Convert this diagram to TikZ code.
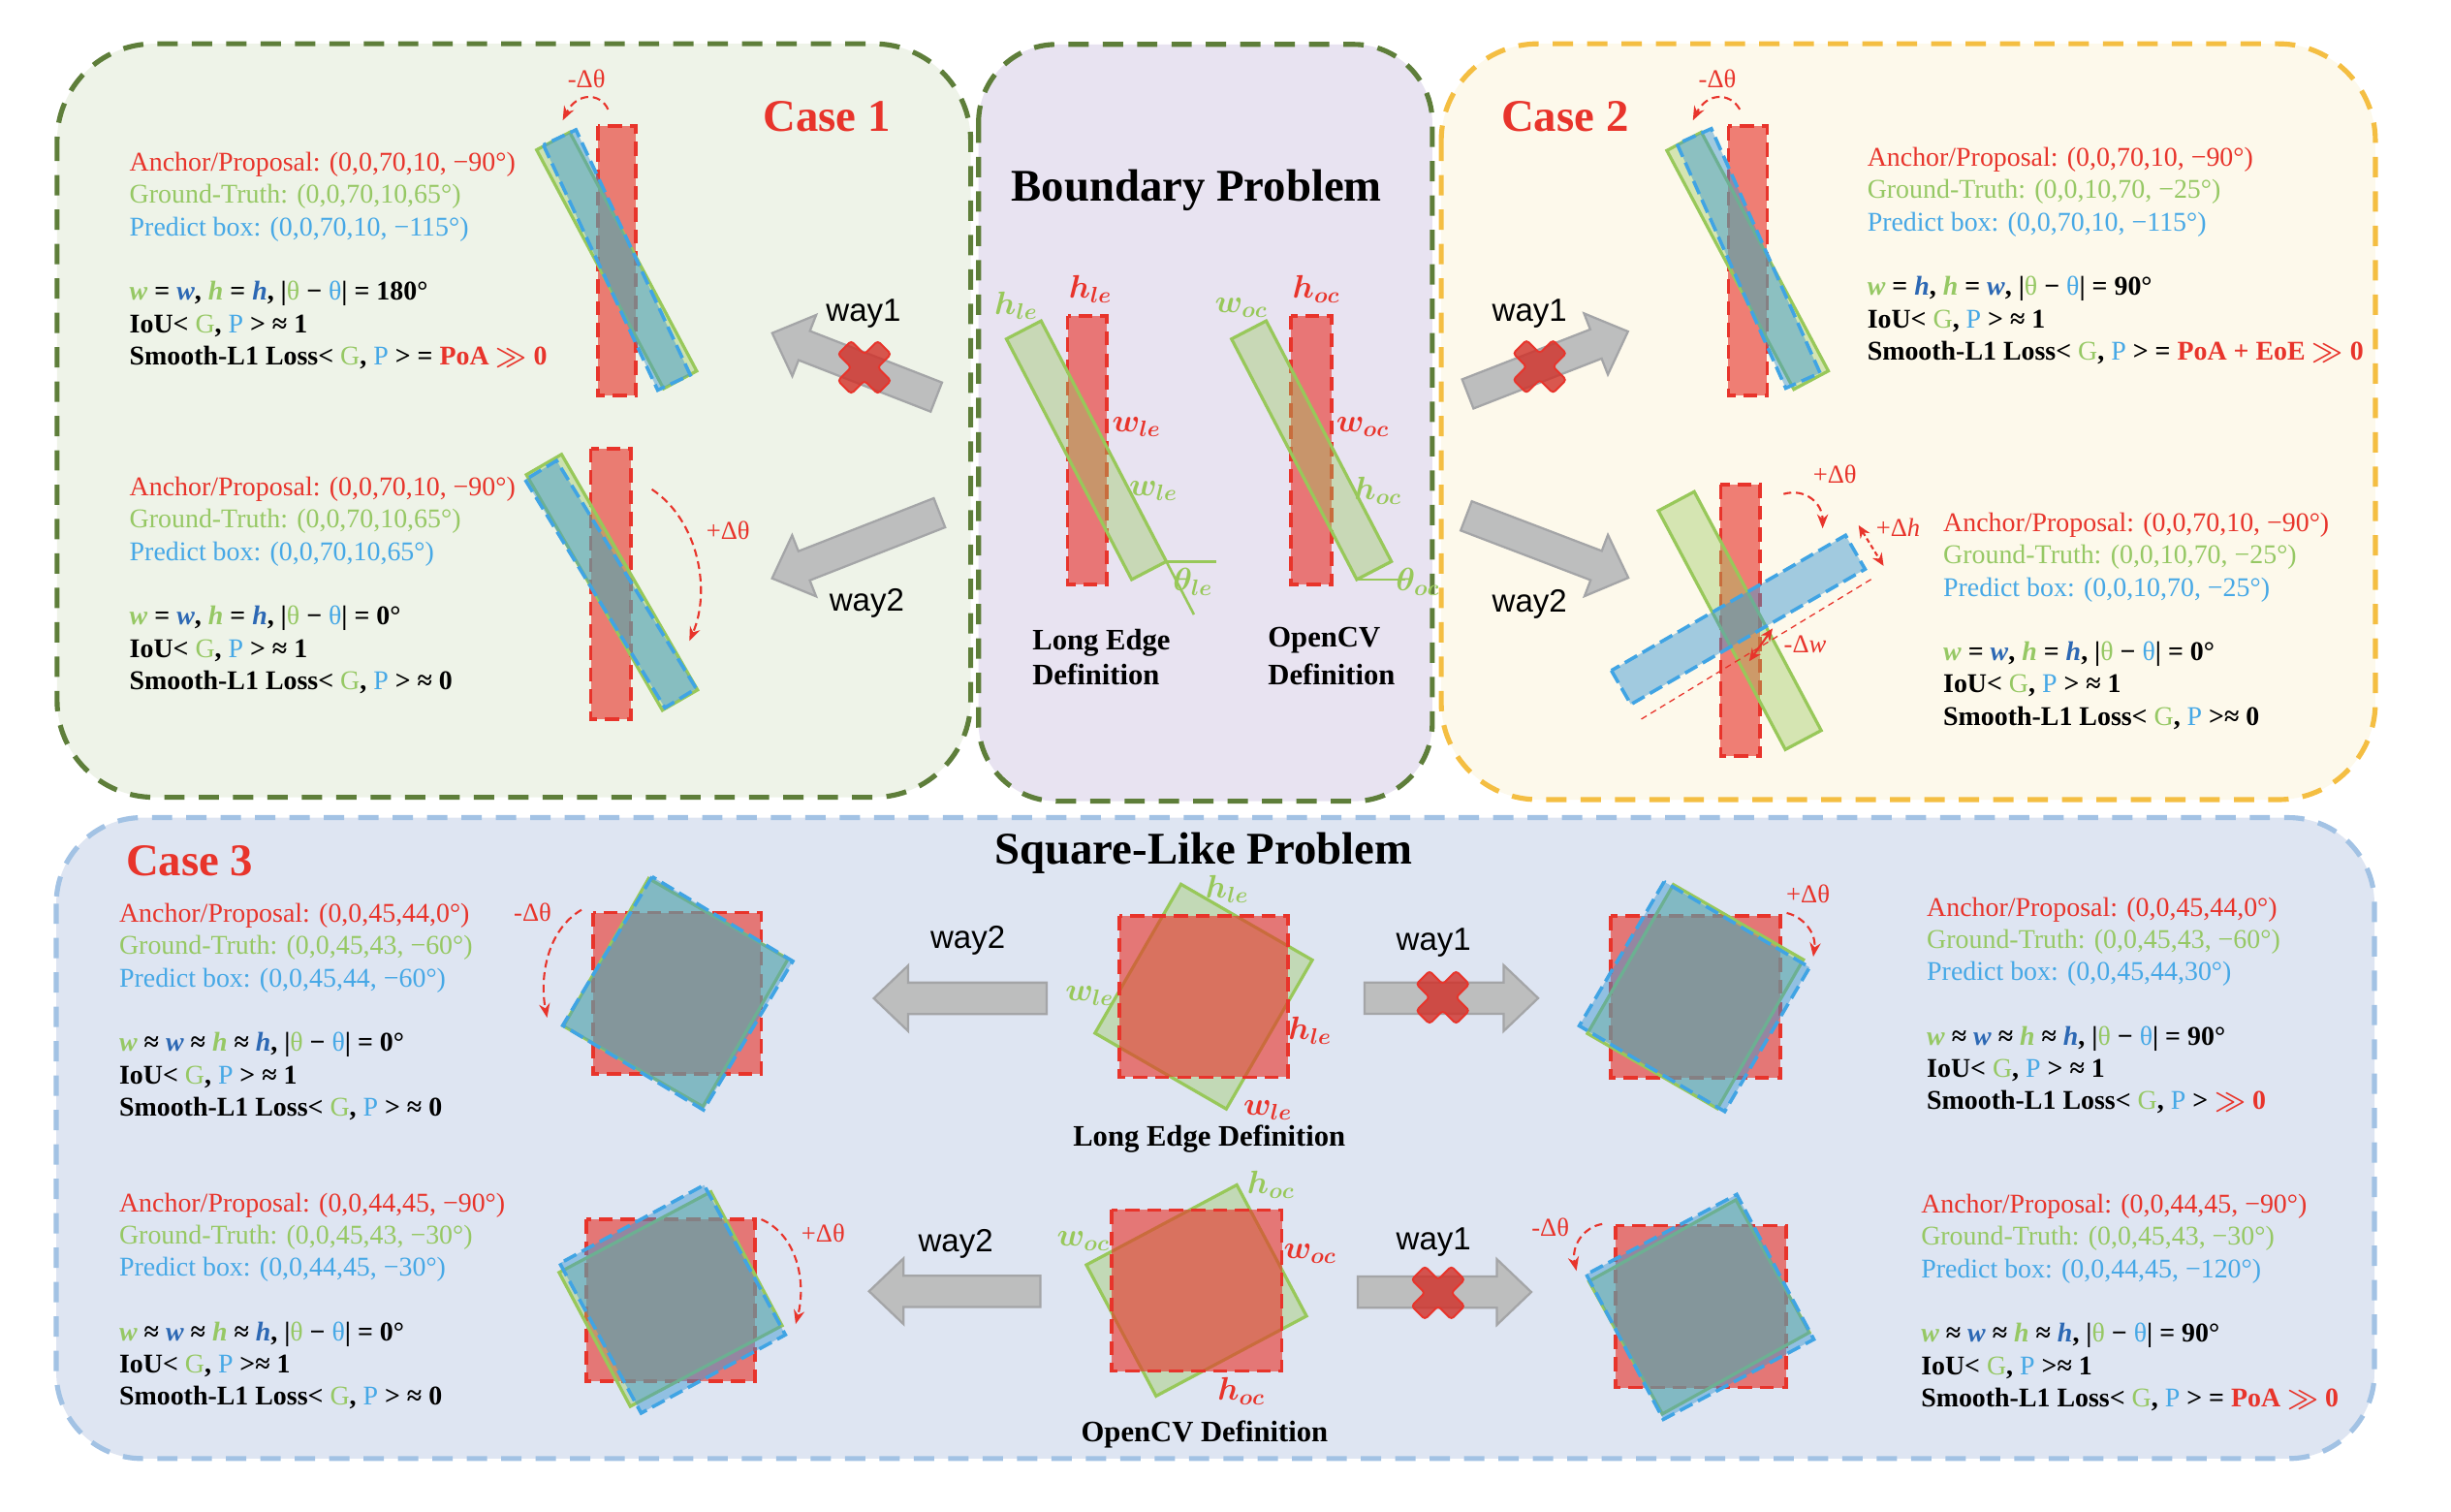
\documentclass[tikz,border=0pt]{standalone}
\usepackage{fontspec}
\setmainfont{Liberation Serif}
\newfontfamily\wayfont{Liberation Sans}
\usetikzlibrary{arrows.meta}

\definecolor{redc}{RGB}{232,52,43}
\definecolor{gtc}{RGB}{152,200,90}
\definecolor{gttext}{RGB}{150,200,100}
\definecolor{prc}{RGB}{64,164,228}
\definecolor{prtext}{RGB}{70,168,230}
\definecolor{dblue}{RGB}{44,104,180}
\definecolor{boxolive}{RGB}{94,126,58}
\definecolor{boxorange}{RGB}{244,190,66}
\definecolor{boxblue}{RGB}{162,194,228}
\definecolor{bgone}{RGB}{238,243,232}
\definecolor{bgmid}{RGB}{232,227,241}
\definecolor{bgtwo}{RGB}{253,249,235}
\definecolor{bgthree}{RGB}{222,229,242}
\definecolor{agray}{RGB}{189,190,190}
\definecolor{agrayd}{RGB}{164,165,167}

\newcommand{\Gw}{\textcolor{gttext}{\textit{w}}}
\newcommand{\Gh}{\textcolor{gttext}{\textit{h}}}
\newcommand{\Pw}{\textcolor{dblue}{\textit{w}}}
\newcommand{\Ph}{\textcolor{dblue}{\textit{h}}}
\newcommand{\Gth}{\textcolor{gttext}{\textmd{θ}}}
\newcommand{\Pth}{\textcolor{prtext}{\textmd{θ}}}
\newcommand{\cG}{\textcolor{gttext}{\textmd{G}}}
\newcommand{\cP}{\textcolor{prtext}{\textmd{P}}}
\newcommand{\much}{{\boldmath$\gg$}}

\tikzset{
  panel/.style={line width=3.2pt, dash pattern=on 13pt off 9pt},
  anchorbox/.style={draw=redc, line width=2.2pt, dash pattern=on 9pt off 5pt, fill=redc, fill opacity=0.62},
  gtbox/.style={draw=gtc, line width=2pt, fill=gtc, fill opacity=0.39},
  prbox/.style={draw=prc, line width=2.2pt, dash pattern=on 9pt off 4pt, fill=prc!92!black, fill opacity=0.47},
  gtline/.style={gtc, line width=1.6pt},
  wayarrow/.style={fill=agray, draw=agrayd, line width=1.4pt},
  redcross/.style={fill=redc!90!black, fill opacity=0.8, draw=redc, line width=1.2pt, rounded corners=2pt},
  dtheta/.style={redc, line width=1.3pt, dash pattern=on 5pt off 3pt, -{Stealth[length=9pt,width=7pt]}},
  dboth/.style={redc, line width=1.3pt, dash pattern=on 3pt off 2pt, {Stealth[length=8pt,width=7pt]}-{Stealth[length=8pt,width=7pt]}},
  txt/.style={anchor=base west, inner sep=0pt, font=\fontsize{17.3}{20.7}\selectfont},
  btxt/.style={txt, font=\fontsize{17.3}{20.7}\selectfont\bfseries},
  title/.style={inner sep=0pt, font=\fontsize{29}{34}\selectfont\bfseries},
  deftxt/.style={inner sep=0pt, anchor=base west, font=\fontsize{19}{22}\selectfont\bfseries},
  waytxt/.style={inner sep=0pt, anchor=base west, font=\wayfont\fontsize{20.5}{24}\selectfont},
  dlab/.style={inner sep=0pt, anchor=base west, text=redc, font=\fontsize{16.5}{20}\selectfont},
  mlab/.style={inner sep=0pt, font=\fontsize{20.5}{24}\selectfont\boldmath}
}

% block arrow: tail x, tail y, direction, length
\newcommand{\wayarrow}[4]{%
  \draw[wayarrow, shift={(#1,#2)}, rotate=#3]
    (0,-10) -- (#4-22,-10) -- (#4-22,-21) -- (#4,0) -- (#4-22,21) -- (#4-22,10) -- (0,10) -- cycle;}
% red cross
\newcommand{\redmark}[2]{%
  \draw[redcross, shift={(#1,#2)}, rotate=45]
    (-6,-18) -- (6,-18) -- (6,-6) -- (18,-6) -- (18,6) -- (6,6) -- (6,18) -- (-6,18)
    -- (-6,6) -- (-18,6) -- (-18,-6) -- (-6,-6) -- cycle;}
% rotated box: style, centre x, centre y, width, height, angle
\newcommand{\rbox}[6]{%
  \draw[#1, shift={(#2,#3)}, rotate=#6] (-#4/2,-#5/2) rectangle (#4/2,#5/2);}
% text block: name, x, first baseline, anchor, gt, pred, relation, iou, loss
\newcommand{\info}[9]{%
  \node[txt, text=redc]   (#1-a) at (#2,#3)        {Anchor/Proposal: #4};
  \node[txt, text=gttext] (#1-g) at (#2,#3+20.65)  {Ground-Truth: #5};
  \node[txt, text=prtext] (#1-p) at (#2,#3+41.3)   {Predict box: #6};
  \node[btxt]             (#1-e) at (#2,#3+82.6)   {#7};
  \node[btxt]             (#1-i) at (#2,#3+103.25) {#8};
  \node[btxt]             (#1-l) at (#2,#3+123.9)  {#9};}

\begin{document}
\begin{tikzpicture}[x=1pt, y=-1pt]

\useasboundingbox (0,0) rectangle (1568,966.6);

% PANELS
  \draw[panel, draw=boxolive, fill=bgone, rounded corners=62pt] (36.5,28) rectangle (621,510);
  \draw[panel, draw=boxolive, fill=bgmid, rounded corners=50pt] (626,28.4) rectangle (916.3,512.5);
  \draw[panel, draw=boxorange, fill=bgtwo, rounded corners=62pt] (922,28) rectangle (1519.6,511.5);
  \draw[panel, draw=boxblue, fill=bgthree, rounded corners=55pt] (36,523) rectangle (1519,933);

% CASE 1
  \node[title, text=redc, anchor=base west] (case1) at (488,83.7) {Case 1};

  \draw[anchorbox] (382.4,80.6) rectangle (406.6,253.1);
  \rbox{gtbox}{394.5}{166.6}{24}{173}{28}
  \rbox{prbox}{394.6}{166.3}{23}{173}{25}
  \draw[dtheta] (389,70) .. controls (384,59) and (369,59) .. (360,77);
  \node[dlab] (c1-up) at (363,55.8) {-Δθ};

  \draw[anchorbox] (378,287) rectangle (403.5,460);
  \rbox{gtbox}{391.5}{372.5}{26}{174}{30}
  \rbox{prbox}{390.7}{373.7}{23.5}{171}{31.5}
  \draw[dtheta] (417,313) .. controls (447,333) and (455,378) .. (441,410);
  \node[dlab] (c1-lo) at (451.7,345) {+Δθ};

  \info{cA}{82.7}{109.5}{(0,0,70,10, −90°)}{(0,0,70,10,65°)}{(0,0,70,10, −115°)}
    {\Gw{} = \Pw, \Gh{} = \Ph, |\Gth{} − \Pth| = 180°}
    {IoU< \cG, \cP{} > ≈ 1}
    {Smooth-L1 Loss< \cG, \cP{} > = \textcolor{redc}{PoA \much{} 0}}
  \info{cB}{82.7}{317.2}{(0,0,70,10, −90°)}{(0,0,70,10,65°)}{(0,0,70,10,65°)}
    {\Gw{} = \Pw, \Gh{} = \Ph, |\Gth{} − \Pth| = 0°}
    {IoU< \cG, \cP{} > ≈ 1}
    {Smooth-L1 Loss< \cG, \cP{} > ≈ 0}

  \wayarrow{599}{254}{158.7}{112.7}
  \redmark{553}{235}
  \node[waytxt] (way1a) at (528.3,205.6) {way1};
  \wayarrow{601}{328}{201.4}{115}
  \node[waytxt] (way2a) at (530.4,390.6) {way2};

% BOUNDARY PROBLEM
  \node[title, anchor=base] (bp) at (765.5,128.5) {Boundary Problem};

  \draw[anchorbox] (683,202) rectangle (708,374);
  \begin{scope}[shift={(695,288)}, rotate=27.5]
    \draw[gtbox] (-12.5,-86.75) rectangle (12.5,86.75);
    \coordinate (le-br) at (12.5,86.75);
    \coordinate (le-ext) at (12.5,125);
  \end{scope}
  \draw[gtline] (le-br) -- ++(32,0);
  \draw[gtline] (le-br) -- (le-ext);

  \draw[anchorbox] (826,202) rectangle (852,374);
  \begin{scope}[shift={(839,288)}, rotate=27.5]
    \draw[gtbox] (-12.5,-86.75) rectangle (12.5,86.75);
    \coordinate (oc-bl) at (-12.5,86.75);
  \end{scope}
  \draw[gtline] (oc-bl) -- ++(31,0);

  \node[mlab, text=gtc]  (hle-g) at (650,195.3) {$h_{le}$};
  \node[mlab, text=redc] (hle-r) at (697.5,185) {$h_{le}$};
  \node[mlab, text=redc] (wle-r) at (727,273)   {$w_{le}$};
  \node[mlab, text=gtc]  (wle-g) at (737.8,313.8) {$w_{le}$};
  \node[mlab, text=gtc]  (tle)   at (763,372)   {$\theta_{le}$};
  \node[mlab, text=gtc]  (woc-g) at (794,197)   {$w_{oc}$};
  \node[mlab, text=redc] (hoc-r) at (842,185)   {$h_{oc}$};
  \node[mlab, text=redc] (woc-r) at (871.7,273) {$w_{oc}$};
  \node[mlab, text=gtc]  (hoc-g) at (881.4,313.8) {$h_{oc}$};
  \node[mlab, text=gtc]  (toc)   at (907,372)   {$\theta_{oc}$};

  \node[deftxt] (led1) at (660.3,415.6) {Long Edge};
  \node[deftxt] (led2) at (660.3,438.3) {Definition};
  \node[deftxt] (ocd1) at (811,414)     {OpenCV};
  \node[deftxt] (ocd2) at (811,438.3)   {Definition};

% CASE 2
  \node[title, text=redc, anchor=base west] (case2) at (960.3,83.7) {Case 2};

  \draw[anchorbox] (1105.7,80.6) rectangle (1130.5,253);
  \rbox{gtbox}{1118}{166.8}{25}{173}{28}
  \rbox{prbox}{1118.6}{165.3}{24}{171}{24}
  \draw[dtheta] (1113,70) .. controls (1107,59) and (1092,59) .. (1083,77);
  \node[dlab] (c2-up) at (1086.5,55.8) {-Δθ};

  \draw[anchorbox] (1100.8,310) rectangle (1126,483.6);
  \rbox{gtbox}{1113}{397}{26}{173}{28}
  \rbox{prbox}{1112}{396.5}{173}{25}{30}
  \draw[redc, line width=0.8pt, dash pattern=on 4pt off 3pt] (1050,460) -- (1198,370);
  \draw[dtheta] (1141,316) .. controls (1155,312) and (1166,322) .. (1166,338);
  \node[dlab] (c2-lo) at (1159.7,309) {+Δθ};
  \draw[dboth] (1189,336) -- (1205,362);
  \node[dlab] (c2-dh) at (1200,343) {+Δ\textit{h}};
  \draw[redc, line width=1.3pt, {Stealth[length=8pt,width=7pt]}-{Stealth[length=8pt,width=7pt]}] (1119,423) -- (1134,402);
  \node[dlab] (c2-dw) at (1141,417.4) {-Δ\textit{w}};

  \info{cC}{1194.4}{106.4}{(0,0,70,10, −90°)}{(0,0,10,70, −25°)}{(0,0,70,10, −115°)}
    {\Gw{} = \Ph, \Gh{} =  \Pw, |\Gth{} − \Pth| = 90°}
    {IoU< \cG, \cP{} > ≈ 1}
    {Smooth-L1 Loss< \cG, \cP{} >  = \textcolor{redc}{PoA + EoE \much{} 0}}
  \info{cD}{1243}{340}{(0,0,70,10, −90°)}{(0,0,10,70, −25°)}{(0,0,10,70, −25°)}
    {\Gw{} = \Pw, \Gh{} = \Ph, |\Gth{} − \Pth| = 0°}
    {IoU< \cG, \cP{} > ≈ 1}
    {Smooth-L1 Loss< \cG, \cP{} >≈ 0}

  \wayarrow{939}{252}{21.3}{110}
  \redmark{985}{234.5}
  \node[waytxt] (way1b) at (954.4,205.6) {way1};
  \wayarrow{938}{330}{-20.9}{111}
  \node[waytxt] (way2b) at (954.4,391.6) {way2};

% CASE 3
  \node[title, text=redc, anchor=base west] (case3) at (80.5,560) {Case 3};
  \node[title, anchor=base] (slp) at (770,552.6) {Square-Like Problem};

  % long edge square
  \rbox{gtbox}{770}{637.5}{97}{110}{-30}
  \draw[anchorbox] (716,586) rectangle (824,689);
  \node[mlab, text=gtc]  (sq-hle-g) at (785,569) {$h_{le}$};
  \node[mlab, text=gtc]  (sq-wle-g) at (697,637) {$w_{le}$};
  \node[mlab, text=redc] (sq-hle-r) at (838,659) {$h_{le}$};
  \node[mlab, text=redc] (sq-wle-r) at (811,710) {$w_{le}$};
  \node[deftxt, anchor=base] (sq-led) at (773.6,733.4) {Long Edge Definition};

  % opencv square
  \rbox{gtbox}{765.4}{825.5}{109}{95}{28}
  \draw[anchorbox] (711,774) rectangle (820,877);
  \node[mlab, text=gtc]  (sq-hoc-g) at (813,758) {$h_{oc}$};
  \node[mlab, text=gtc]  (sq-woc-g) at (693,794) {$w_{oc}$};
  \node[mlab, text=redc] (sq-woc-r) at (838,802) {$w_{oc}$};
  \node[mlab, text=redc] (sq-hoc-r) at (794,890) {$h_{oc}$};
  \node[deftxt, anchor=base] (sq-ocd) at (770.6,922.3) {OpenCV Definition};

  % upper left
  \draw[anchorbox] (379.4,583.8) rectangle (487,687);
  \rbox{gtbox}{432.3}{634.9}{103}{109}{-30}
  \rbox{prbox}{433.6}{635.4}{105}{111}{-31}
  \draw[dtheta] (372,582) .. controls (350,595) and (345,625) .. (350,651);
  \node[dlab] (c3-ul) at (328.5,589) {-Δθ};

  % upper right
  \draw[anchorbox] (1030.4,586) rectangle (1139,689.6);
  \rbox{gtbox}{1084.6}{637.5}{96}{110}{-30}
  \rbox{prbox}{1084}{637.5}{108}{107}{-30.5}
  \draw[dtheta] (1143,584) .. controls (1155,587) and (1162,598) .. (1160,612);
  \node[dlab] (c3-ur) at (1142.6,577.6) {+Δθ};

  % lower left
  \draw[anchorbox] (375,780) rectangle (483,883.5);
  \rbox{gtbox}{429}{831}{110}{97}{28}
  \rbox{prbox}{430.3}{831}{105}{109}{28.5}
  \draw[dtheta] (487,780) .. controls (510,790) and (516,820) .. (509,847);
  \node[dlab] (c3-ll) at (512.5,794.6) {+Δθ};

  % lower right
  \draw[anchorbox] (1033.5,784) rectangle (1142.6,887.6);
  \rbox{gtbox}{1087}{836}{107.5}{97}{29}
  \rbox{prbox}{1087.6}{836}{109}{105}{28}
  \draw[dtheta] (1025,783) .. controls (1013,785) and (1005,797) .. (1008.5,813);
  \node[dlab] (c3-lr) at (979.6,791) {-Δθ};

  \info{cE}{76.1}{590}{(0,0,45,44,0°)}{(0,0,45,43, −60°)}{(0,0,45,44, −60°)}
    {\Gw{} ≈ \Pw{} ≈ \Gh{} ≈ \Ph, |\Gth{} − \Pth| = 0°}
    {IoU< \cG, \cP{} > ≈ 1}
    {Smooth-L1 Loss< \cG, \cP{} > ≈ 0}
  \info{cF}{1232.5}{585.9}{(0,0,45,44,0°)}{(0,0,45,43, −60°)}{(0,0,45,44,30°)}
    {\Gw{} ≈ \Pw{} ≈ \Gh{} ≈ \Ph, |\Gth{} − \Pth| = 90°}
    {IoU< \cG, \cP{} > ≈ 1}
    {Smooth-L1 Loss< \cG, \cP{} > \textcolor{redc}{\much{} 0}}
  \info{cG}{76.1}{775}{(0,0,44,45, −90°)}{(0,0,45,43, −30°)}{(0,0,44,45, −30°)}
    {\Gw{} ≈ \Pw{} ≈ \Gh{} ≈ \Ph, |\Gth{} − \Pth| = 0°}
    {IoU< \cG, \cP{} >≈ 1}
    {Smooth-L1 Loss< \cG, \cP{} > ≈ 0}
  \info{cH}{1228.8}{776}{(0,0,44,45, −90°)}{(0,0,45,43, −30°)}{(0,0,44,45, −120°)}
    {\Gw{} ≈ \Pw{} ≈ \Gh{} ≈ \Ph, |\Gth{} − \Pth| = 90°}
    {IoU< \cG, \cP{} >≈ 1}
    {Smooth-L1 Loss< \cG, \cP{} > = \textcolor{redc}{PoA \much{} 0}}

  \wayarrow{669.6}{638.6}{180}{110.6}
  \node[waytxt] (way2c) at (595,606.5) {way2};
  \wayarrow{873}{638.5}{0}{111}
  \redmark{923}{638}
  \node[waytxt] (way1c) at (893,607.6) {way1};
  \wayarrow{665.6}{826}{180}{109.6}
  \node[waytxt] (way2d) at (587.3,800.8) {way2};
  \wayarrow{868.6}{826.5}{0}{111}
  \redmark{920}{827}
  \node[waytxt] (way1d) at (893,799.4) {way1};

\end{tikzpicture}
\end{document}
